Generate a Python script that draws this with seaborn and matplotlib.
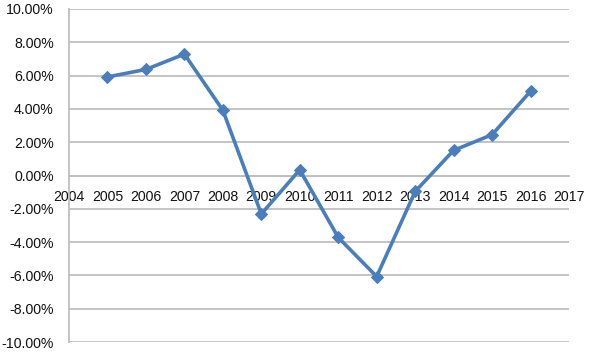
import matplotlib
matplotlib.use("Agg")
import matplotlib.pyplot as plt
import seaborn as sns
import pandas as pd
from matplotlib.ticker import FuncFormatter, MultipleLocator

years = [2005, 2006, 2007, 2008, 2009, 2010, 2011, 2012, 2013, 2014, 2015, 2016]
growth = [5.92, 6.37, 7.29, 3.92, -2.31, 0.34, -3.72, -6.07, -0.96, 1.51, 2.45, 5.06]

df = pd.DataFrame({"year": years, "growth": growth})

sns.set_style("white")
plt.rcParams["font.family"] = ["Liberation Sans", "DejaVu Sans"]

fig = plt.figure(figsize=(5.89, 3.64), dpi=100)
ax = fig.add_axes([69/589, 22/364, 500/589, 333/364])

grid_c = "#bfbfbf"
for v in range(-10, 11, 2):
    ax.axhline(v, color=grid_c, lw=1.3, zorder=0)

sns.lineplot(data=df, x="year", y="growth", ax=ax, color="#4a7ebb", lw=2.6,
             marker="D", markersize=6.5, markeredgecolor="#4a7ebb", zorder=3)

ax.set_xlim(2004, 2017)
ax.set_ylim(-10, 10)
ax.xaxis.set_major_locator(MultipleLocator(1))
ax.yaxis.set_major_locator(MultipleLocator(2))
ax.yaxis.set_major_formatter(FuncFormatter(lambda v, p: f"{v:.2f}%"))

for s in ["top", "right"]:
    ax.spines[s].set_visible(False)
ax.spines["left"].set_color(grid_c)
ax.spines["left"].set_linewidth(1.3)
ax.spines["bottom"].set_position(("data", 0))
ax.spines["bottom"].set_color(grid_c)
ax.spines["bottom"].set_linewidth(1.3)

ax.tick_params(axis="x", direction="out", length=3.6, width=1.2, color=grid_c,
               labelsize=10.2, pad=7, labelcolor="#111111")
ax.tick_params(axis="y", direction="out", length=2.5, width=1.2, color=grid_c,
               labelsize=10.2, pad=8.5, labelcolor="#111111")
ax.set_xlabel("")
ax.set_ylabel("")

fig.savefig("out.png", dpi=100)
